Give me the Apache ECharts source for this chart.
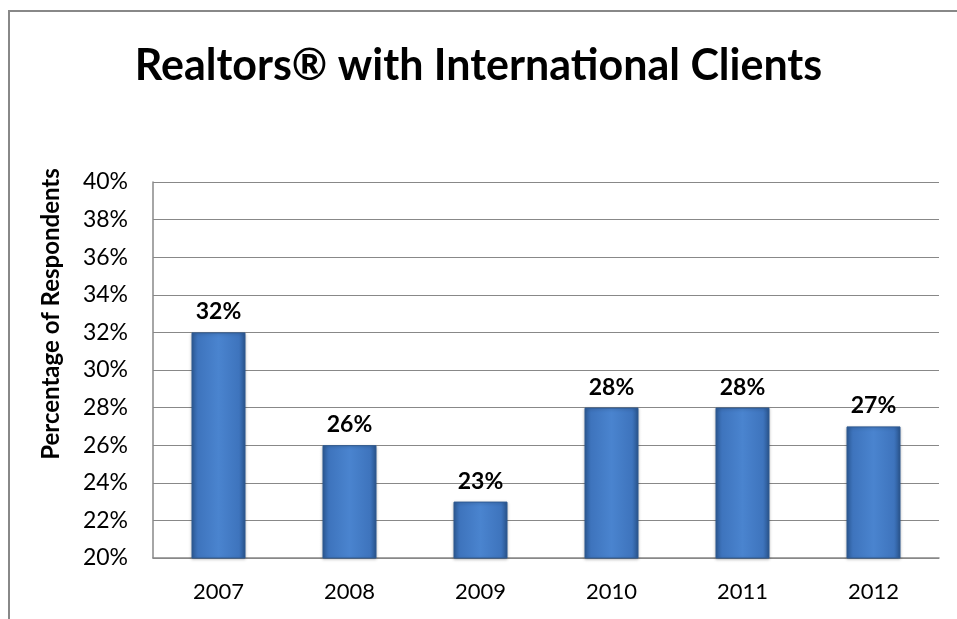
<!DOCTYPE html>
<html><head><meta charset="utf-8">
<script src="https://cdn.jsdelivr.net/npm/echarts@6/dist/echarts.min.js"></script>
<style>html,body{margin:0;padding:0;background:#fff}#c{width:957px;height:619px}</style>
</head><body><div id="c"></div>
<script>
const categories = ['2007','2008','2009','2010','2011','2012'];
const values = [32, 26, 23, 28, 28, 27];
const yTicks = {min: 20, max: 40, interval: 2};
const yTitle = 'Percentage of Respondents';
const FONT = 'Lato, "Open Sans", sans-serif';
const chart = echarts.init(document.getElementById('c'));
chart.setOption({
  animation: false,
  backgroundColor: '#fff',
  graphic: [
    {type:'rect', shape:{x:9,y:11,width:1000,height:700}, style:{fill:'none', stroke:'#888', lineWidth:2}, silent:true},
    {type:'text', x:51, y:314, rotation: Math.PI/2,
      style:{text: yTitle, font: 'bold 24px ' + FONT, fill:'#000', textAlign:'center', textVerticalAlign:'middle'}}
  ],
  title: {text: 'Realtors® with International Clients', left: 'center', top: 40,
    textStyle: {fontFamily: FONT, fontWeight: 'bold', fontSize: 43, color: '#000'}},
  grid: {left: 153, right: 18, top: 182, bottom: 61},
  xAxis: {type: 'category', data: categories,
    axisLine: {lineStyle: {color: '#888', width: 1.5}}, axisTick: {show: false},
    axisLabel: {fontFamily: FONT, fontSize: 22, color: '#000', margin: 23}},
  yAxis: {type: 'value', min: yTicks.min, max: yTicks.max, interval: yTicks.interval,
    axisLine: {show: true, lineStyle: {color: '#888', width: 1.5}}, axisTick: {show: false},
    splitLine: {lineStyle: {color: '#888', width: 1.2}},
    axisLabel: {fontFamily: FONT, fontSize: 23, color: '#000', margin: 25, formatter: '{value}%'}},
  series: [{type: 'bar', data: values, barWidth: 54,
    itemStyle: {
      color: new echarts.graphic.LinearGradient(0,0,1,0,[
        {offset:0, color:'#2c5a96'},{offset:0.12, color:'#3e74bd'},{offset:0.5, color:'#4a84cf'},
        {offset:0.88, color:'#3e74bd'},{offset:1, color:'#2a5690'}]),
      borderColor: '#2e5a92', borderWidth: 1,
      shadowColor: 'rgba(0,0,0,0.25)', shadowBlur: 3, shadowOffsetY: 1
    },
    label: {show: true, position: 'top', distance: 9, formatter: '{c}%',
      fontFamily: FONT, fontWeight: 'bold', fontSize: 23, color: '#000'}
  }]
});
</script></body></html>
